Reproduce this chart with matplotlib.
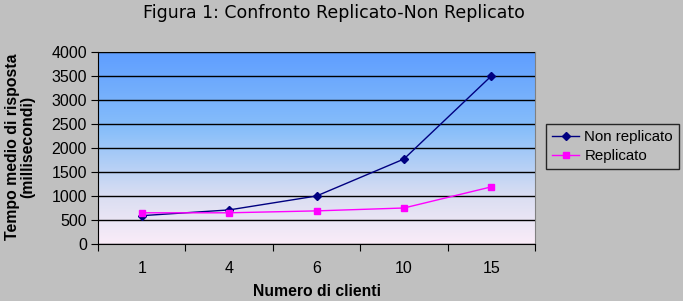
import numpy as np
import matplotlib.pyplot as plt
from matplotlib.colors import LinearSegmentedColormap

clienti = ["1", "4", "6", "10", "15"]
non_replicato = [590, 710, 1000, 1770, 3500]
replicato = [650, 650, 690, 750, 1190]

grey = "#C0C0C0"
fig = plt.figure(figsize=(6.83, 3.01), dpi=100, facecolor=grey)
ax = fig.add_axes([98/683, 1-244/301, (535-98)/683, (244-52)/301])

# gradient background (pink at bottom, blue at top)
cmap = LinearSegmentedColormap.from_list("bg", [
    (0.0, (250/255, 236/255, 248/255)),
    (0.25, (218/255, 222/255, 242/255)),
    (0.6, (135/255, 190/255, 250/255)),
    (1.0, (95/255, 158/255, 255/255)),
])
grad = np.linspace(0, 1, 256).reshape(-1, 1)
ax.imshow(grad, aspect="auto", cmap=cmap, origin="lower",
          extent=[0, 5, 0, 4000], zorder=0)

x = np.arange(len(clienti)) + 0.5
ax.plot(x, non_replicato, color="#000080", lw=1, marker="D", ms=4,
        label="Non replicato", zorder=3)
ax.plot(x, replicato, color="#FF00FF", lw=1, marker="s", ms=5,
        label="Replicato", zorder=3)

ax.set_xlim(0, 5)
ax.set_ylim(0, 4000)
ax.set_yticks(np.arange(0, 4001, 500))
ax.set_xticks(np.arange(0, 6))
ax.set_xticklabels([])
ax.set_xticks(x, minor=True)
ax.set_xticklabels(clienti, minor=True)
ax.tick_params(axis="x", which="minor", length=0, pad=12)
ax.tick_params(axis="x", which="major", length=5, direction="out", color="black")
ax.tick_params(axis="y", length=5, direction="out", color="black", pad=3)
ax.yaxis.grid(True, color="black", lw=1)
ax.set_axisbelow(False)
for lbl in ax.get_xticklabels(minor=True) + ax.get_yticklabels():
    lbl.set_fontfamily("Liberation Sans")
    lbl.set_fontsize(11.5)
for s in ["top", "right"]:
    ax.spines[s].set_color("#808080")
for s in ["left", "bottom"]:
    ax.spines[s].set_color("black")

ax.set_xlabel("Numero di clienti", fontfamily="Liberation Sans",
              fontweight="bold", fontsize=11.3, labelpad=6)
fig.text(20/683, 1-147/301, "Tempo medio di risposta\n(millisecondi)",
         rotation=90, ha="center", va="center", fontfamily="Liberation Sans",
         fontweight="bold", fontsize=11.4, linespacing=1.05)
fig.text(334/683, 1-13/301, "Figura 1: Confronto Replicato-Non Replicato",
         ha="center", va="center", fontfamily="DejaVu Sans", fontsize=12.5)

leg = fig.legend(loc="upper left", bbox_to_anchor=(546/683, 1-124/301),
                 frameon=True, fancybox=False, facecolor=grey,
                 edgecolor="black", prop={"family": "Liberation Sans", "size": 10.8},
                 handlelength=1.8, borderpad=0.4, labelspacing=0.35,
                 handletextpad=0.35, borderaxespad=0)
leg.get_frame().set_linewidth(1)

plt.savefig("out.png", dpi=100, facecolor=grey)
